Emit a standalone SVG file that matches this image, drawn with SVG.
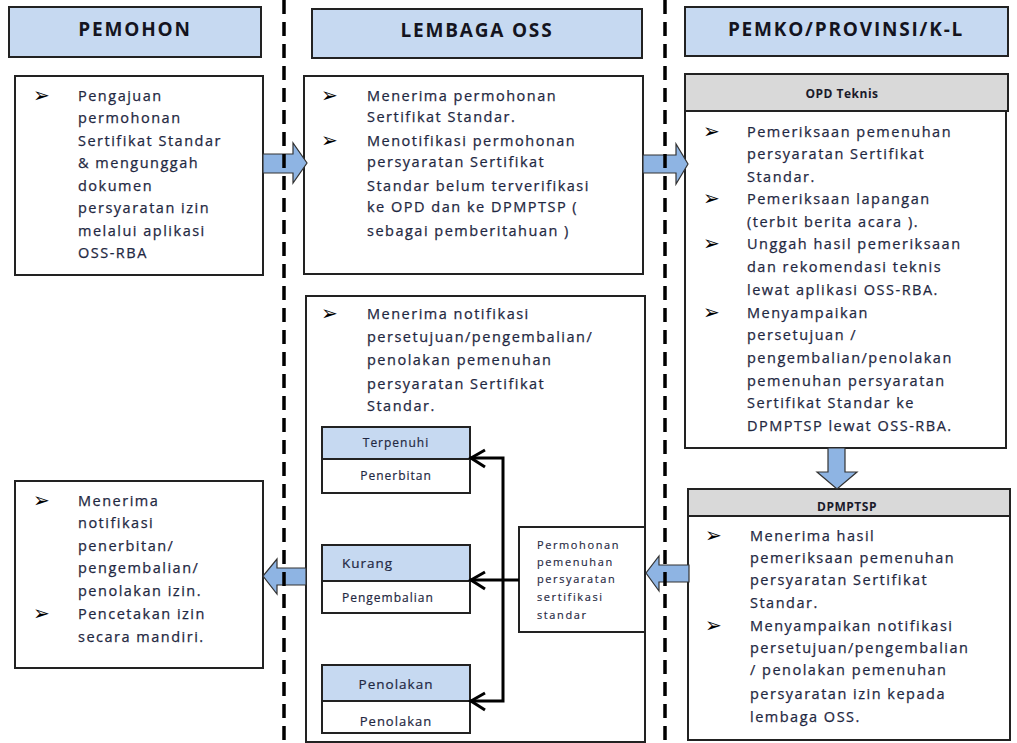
<svg xmlns="http://www.w3.org/2000/svg" width="1017" height="743" viewBox="0 0 1017 743">
<defs>
<style>
.hdr{fill:#c6d9f1;stroke:#222;stroke-width:2}
.box{fill:#fff;stroke:#222;stroke-width:2}
.gray{fill:#d9d9d9;stroke:#222;stroke-width:2}
.blue{fill:#c6d9f1;stroke:#222;stroke-width:2}
.ht{font-family:"Open Sans","Liberation Sans",sans-serif;font-weight:bold;font-size:19px;letter-spacing:1.8px;fill:#141420;text-anchor:middle}
.t{font-family:"Open Sans","Liberation Sans",sans-serif;font-size:14.5px;letter-spacing:1.5px;fill:#1f2842;stroke:#1f2842;stroke-width:0.25}
.b{font-family:"DejaVu Sans",sans-serif;font-size:20px;fill:#000}
.sh{font-family:"Open Sans","Liberation Sans",sans-serif;font-weight:bold;font-size:12px;letter-spacing:0.5px;fill:#1a1a2a;text-anchor:middle}
.s{font-family:"Open Sans","Liberation Sans",sans-serif;font-size:12px;letter-spacing:1px;fill:#1f2842;stroke:#1f2842;stroke-width:0.2}
.sm{font-family:"Open Sans","Liberation Sans",sans-serif;font-size:11px;letter-spacing:1.6px;fill:#1f2842;stroke:#1f2842;stroke-width:0.15}
.blk{fill:#8eb4e3;stroke:#333;stroke-width:1.2}
.con{fill:none;stroke:#000;stroke-width:3}
.dash{stroke:#000;stroke-width:3.5;stroke-dasharray:14 8;fill:none}
</style>
</defs>

<g id="hdr-pemohon"><rect class="hdr" x="9" y="7" width="252" height="50"/><text class="ht" x="135" y="36">PEMOHON</text></g>
<g id="hdr-oss"><rect class="hdr" x="312" y="9" width="330" height="49"/><text class="ht" x="477" y="37">LEMBAGA OSS</text></g>
<g id="hdr-pemko"><rect class="hdr" x="685" y="7" width="323" height="49"/><text class="ht" x="846" y="36">PEMKO/PROVINSI/K-L</text></g>

<g id="pengajuan">
<rect class="box" x="15" y="76" width="248" height="199"/>
<text class="b" x="33" y="102">➢</text>
<text class="t" x="78" y="101">Pengajuan</text>
<text class="t" x="78" y="123">permohonan</text>
<text class="t" x="78" y="146">Sertifikat Standar</text>
<text class="t" x="78" y="168">&amp; mengunggah</text>
<text class="t" x="78" y="191">dokumen</text>
<text class="t" x="78" y="213">persyaratan izin</text>
<text class="t" x="78" y="236">melalui aplikasi</text>
<text class="t" x="78" y="258">OSS-RBA</text>
</g>

<g id="oss-terima">
<rect class="box" x="304" y="76" width="339" height="198"/>
<text class="b" x="321" y="102">➢</text>
<text class="t" x="367" y="101">Menerima permohonan</text>
<text class="t" x="367" y="122">Sertifikat Standar.</text>
<text class="b" x="321" y="147">➢</text>
<text class="t" x="367" y="146">Menotifikasi permohonan</text>
<text class="t" x="367" y="167">persyaratan Sertifikat</text>
<text class="t" x="367" y="191">Standar belum terverifikasi</text>
<text class="t" x="367" y="212">ke OPD dan ke DPMPTSP (</text>
<text class="t" x="367" y="236">sebagai pemberitahuan )</text>
</g>

<g id="opd-teknis">
<rect class="gray" x="685" y="74" width="323" height="37"/>
<text class="sh" x="842" y="98">OPD Teknis</text>
<rect class="box" x="685" y="111" width="321" height="337"/>
<text class="b" x="703" y="138">➢</text>
<text class="t" x="747" y="137">Pemeriksaan pemenuhan</text>
<text class="t" x="747" y="159">persyaratan Sertifikat</text>
<text class="t" x="747" y="182">Standar.</text>
<text class="b" x="703" y="205">➢</text>
<text class="t" x="747" y="204">Pemeriksaan lapangan</text>
<text class="t" x="747" y="227">(terbit berita acara ).</text>
<text class="b" x="703" y="250">➢</text>
<text class="t" x="747" y="249">Unggah hasil pemeriksaan</text>
<text class="t" x="747" y="272">dan rekomendasi teknis</text>
<text class="t" x="747" y="295">lewat aplikasi OSS-RBA.</text>
<text class="b" x="703" y="319">➢</text>
<text class="t" x="747" y="318">Menyampaikan</text>
<text class="t" x="747" y="340">persetujuan /</text>
<text class="t" x="747" y="363">pengembalian/penolakan</text>
<text class="t" x="747" y="386">pemenuhan persyaratan</text>
<text class="t" x="747" y="408">Sertifikat Standar ke</text>
<text class="t" x="747" y="431">DPMPTSP lewat OSS-RBA.</text>
</g>

<g id="oss-notifikasi">
<rect class="box" x="306" y="296" width="339" height="446"/>
<text class="b" x="321" y="320">➢</text>
<text class="t" x="367" y="319">Menerima notifikasi</text>
<text class="t" x="367" y="342">persetujuan/pengembalian/</text>
<text class="t" x="367" y="365">penolakan pemenuhan</text>
<text class="t" x="367" y="389">persyaratan Sertifikat</text>
<text class="t" x="367" y="411">Standar.</text>
</g>

<g id="terpenuhi">
<rect class="blue" x="322" y="427" width="148" height="32"/>
<rect class="box" x="322" y="459" width="148" height="34"/>
<text class="s" x="396" y="447" text-anchor="middle">Terpenuhi</text>
<text class="s" x="396" y="480" text-anchor="middle">Penerbitan</text>
</g>

<g id="kurang">
<rect class="blue" x="322" y="545" width="148" height="36"/>
<rect class="box" x="322" y="581" width="148" height="32"/>
<text class="s" x="342" y="568" style="font-size:13.5px">Kurang</text>
<text class="s" x="342" y="602">Pengembalian</text>
</g>

<g id="penolakan">
<rect class="blue" x="322" y="665" width="148" height="36"/>
<rect class="box" x="322" y="701" width="148" height="32"/>
<text class="s" x="396" y="689" text-anchor="middle" style="font-size:13.5px">Penolakan</text>
<text class="s" x="396" y="726" text-anchor="middle" style="font-size:13px">Penolakan</text>
</g>

<g id="permohonan">
<rect class="box" x="519" y="527" width="126" height="105"/>
<text class="sm" x="537" y="549">Permohonan</text>
<text class="sm" x="537" y="566">pemenuhan</text>
<text class="sm" x="537" y="583">persyaratan</text>
<text class="sm" x="537" y="601">sertifikasi</text>
<text class="sm" x="537" y="619">standar</text>
</g>

<g id="pemohon-terima">
<rect class="box" x="15" y="481" width="248" height="187"/>
<text class="b" x="33" y="507">➢</text>
<text class="t" x="78" y="506">Menerima</text>
<text class="t" x="78" y="528">notifikasi</text>
<text class="t" x="78" y="551">penerbitan/</text>
<text class="t" x="78" y="573">pengembalian/</text>
<text class="t" x="78" y="596">penolakan izin.</text>
<text class="b" x="33" y="620">➢</text>
<text class="t" x="78" y="619">Pencetakan izin</text>
<text class="t" x="78" y="642">secara mandiri.</text>
</g>

<g id="dpmptsp">
<rect class="gray" x="688" y="489" width="322" height="27"/>
<text class="sh" x="847" y="511">DPMPTSP</text>
<rect class="box" x="688" y="516" width="322" height="224"/>
<text class="b" x="705" y="542">➢</text>
<text class="t" x="750" y="541">Menerima hasil</text>
<text class="t" x="750" y="563">pemeriksaan pemenuhan</text>
<text class="t" x="750" y="585">persyaratan Sertifikat</text>
<text class="t" x="750" y="608">Standar.</text>
<text class="b" x="705" y="632">➢</text>
<text class="t" x="750" y="631">Menyampaikan notifikasi</text>
<text class="t" x="750" y="653">persetujuan/pengembalian</text>
<text class="t" x="750" y="675">/ penolakan pemenuhan</text>
<text class="t" x="750" y="699">persyaratan izin kepada</text>
<text class="t" x="750" y="722">lembaga OSS.</text>
</g>

<g id="connectors">
<path class="blk" d="M263,154 L293,154 L293,143 L307,163 L293,183 L293,173 L263,173 Z"/>
<path class="blk" d="M643,155 L676,155 L676,144 L688,164 L676,184 L676,173 L643,173 Z"/>
<path class="blk" d="M828,448 L845,448 L845,472 L857,472 L837,489 L817,472 L828,472 Z"/>
<path class="blk" d="M689,565 L659,565 L659,556 L646,573 L659,591 L659,582 L689,582 Z"/>
<path class="blk" d="M306,568 L277,568 L277,559 L263,576 L277,594 L277,585 L306,585 Z"/>
<path class="con" d="M470,458 L503,458 L503,701 L470,701"/>
<path class="con" d="M519,580 L470,580"/>
<path class="con" d="M485,450 L471,458 L485,467"/>
<path class="con" d="M485,572 L471,580 L485,589"/>
<path class="con" d="M485,693 L471,701 L485,710"/>
</g>

<g id="lanes">
<line class="dash" x1="284" y1="0" x2="284" y2="743"/>
<line class="dash" x1="665" y1="0" x2="665" y2="743"/>
</g>
</svg>
